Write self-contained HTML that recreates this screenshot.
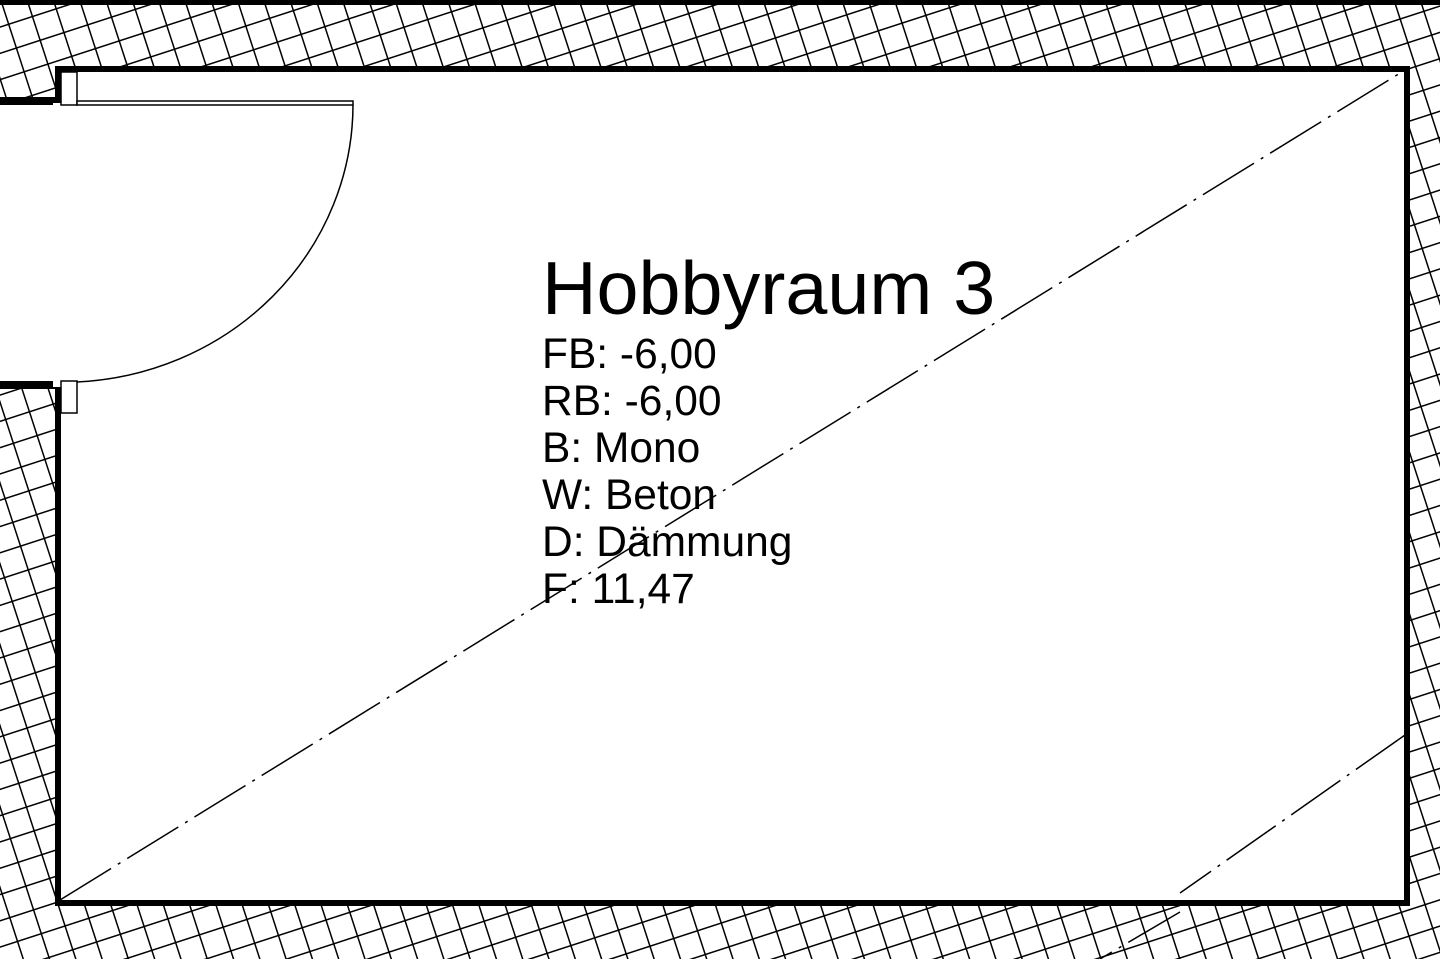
<!DOCTYPE html>
<html><head><meta charset="utf-8"><style>
html,body{margin:0;padding:0;background:#fff;width:1440px;height:959px;overflow:hidden}
svg{display:block}
text{font-family:"Liberation Sans",Arial,sans-serif;fill:#000}
</style></head><body>
<svg width="1440" height="959" viewBox="0 0 1440 959" xmlns="http://www.w3.org/2000/svg">
<defs>
<pattern id="h" width="25" height="25" patternUnits="userSpaceOnUse" patternTransform="rotate(-18)">
<rect width="25" height="25" fill="#fff"/>
<path d="M0 0H25M0 0V25" stroke="#000" stroke-width="3" fill="none"/>
</pattern>
</defs>
<rect x="0" y="0" width="1440" height="959" fill="url(#h)"/>
<rect x="0" y="0" width="1440" height="5" fill="#000"/>
<rect x="0" y="103" width="60" height="284" fill="#fff"/>
<rect x="58" y="69" width="1349" height="834" fill="#fff" stroke="#000" stroke-width="6"/>
<rect x="0" y="97" width="62" height="8" fill="#000"/>
<rect x="0" y="381" width="62" height="8" fill="#000"/>
<rect x="53" y="103" width="12" height="284" fill="#fff"/>
<rect x="61" y="72" width="16" height="33" fill="#fff" stroke="#000" stroke-width="1.5"/>
<rect x="61" y="381" width="16" height="32" fill="#fff" stroke="#000" stroke-width="1.5"/>
<rect x="77" y="101" width="276" height="4" fill="#fff" stroke="#000" stroke-width="1.5"/>
<path d="M353 105 A 290 278 0 0 1 77 382" fill="none" stroke="#000" stroke-width="1.5"/>
<line x1="60" y1="900" x2="1405" y2="70" stroke="#000" stroke-width="1.5" stroke-dasharray="60,8,3,8"/>
<line x1="1405" y1="735" x2="1180" y2="893" stroke="#000" stroke-width="1.5" stroke-dasharray="60,8,3,8"/>
<line x1="1180" y1="912" x2="1100" y2="959" stroke="#000" stroke-width="1.5" stroke-dasharray="60,8,3,8"/>
<text x="542" y="314" font-size="75.5">Hobbyraum 3</text>
<text x="542" y="368" font-size="42.5">FB: -6,00</text>
<text x="542" y="415" font-size="42.5">RB: -6,00</text>
<text x="542" y="462" font-size="42.5">B: Mono</text>
<text x="542" y="509" font-size="42.5">W: Beton</text>
<text x="542" y="556" font-size="42.5">D: Dämmung</text>
<text x="542" y="603" font-size="42.5">F: 11,47</text>
</svg>
</body></html>
